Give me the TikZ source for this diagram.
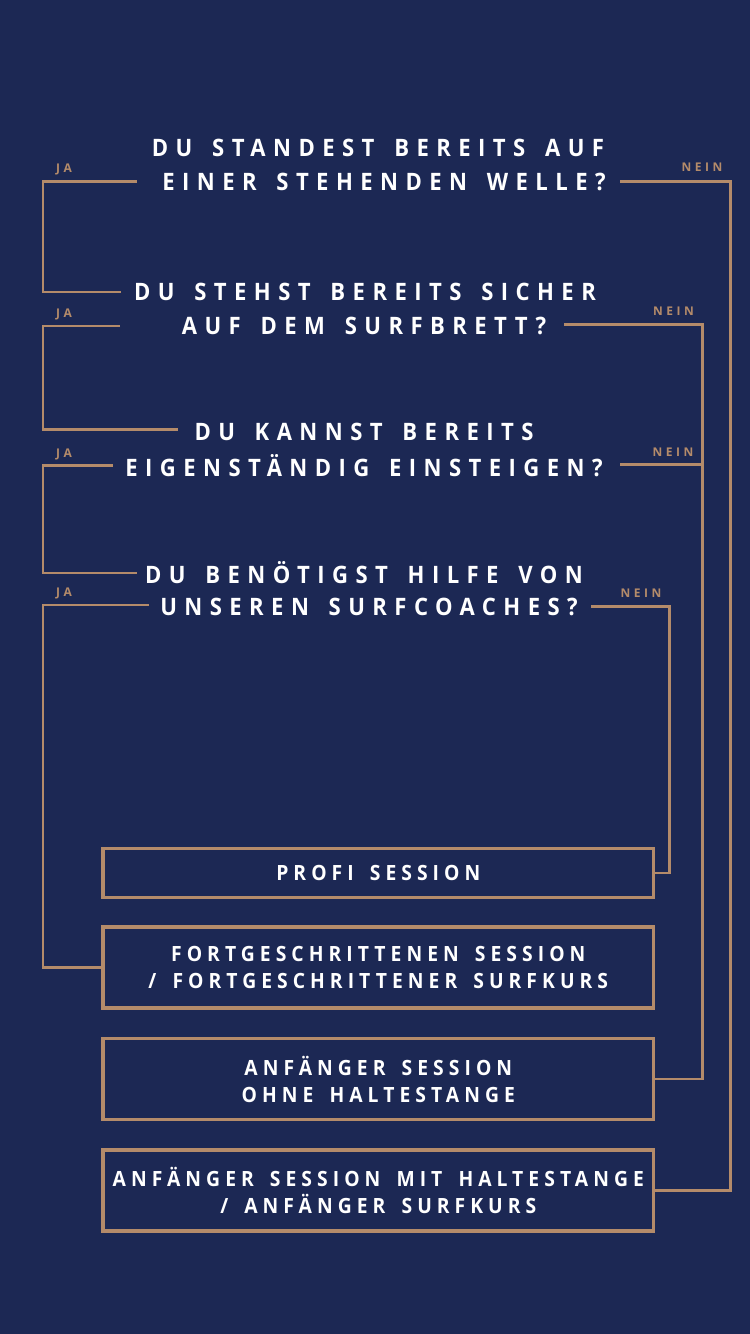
\documentclass[tikz,border=0pt]{standalone}
\usepackage{fontspec}
\setmainfont{Open Sans}
\newfontfamily\qfont[LetterSpace=31,WordSpace=1.5,FakeStretch=0.92]{Open Sans}
\newfontfamily\bfont[LetterSpace=24,WordSpace=1.6,FakeStretch=0.92]{Open Sans}
\newfontfamily\lfont[LetterSpace=30]{Open Sans}
\definecolor{bg}{HTML}{1C2854}
\definecolor{tan}{HTML}{B48B6A}
\tikzset{
  q/.style={font=\qfont\bfseries\fontsize{24}{24}\selectfont, text=white, inner sep=0pt, anchor=center},
  lbl/.style={font=\lfont\bfseries\fontsize{12}{12}\selectfont, text=tan, inner sep=0pt, anchor=center},
  outbox/.style={draw=tan, line width=3.5pt, minimum width=550.5pt, inner sep=0pt, align=center,
    font=\bfont\bfseries\fontsize{21}{27}\selectfont, text=white},
  conn/.style={draw=tan, line width=2.8pt}
}
\begin{document}
\begin{tikzpicture}[x=1pt,y=-1pt]
\fill[bg] (0,0) rectangle (750,1334);
% questions
\node[q] (q1a) at (378,148) {DU STANDEST BEREITS AUF};
\node[q] (q1b) at (384,182) {EINER STEHENDEN WELLE?};
\node[q] (q2a) at (365,292) {DU STEHST BEREITS SICHER};
\node[q] (q2b) at (364,326) {AUF DEM SURFBRETT?};
\node[q] (q3a) at (364,432) {DU KANNST BEREITS};
\node[q] (q3b) at (364,466) {EIGENSTÄNDIG EINSTEIGEN?};
\node[q] (q4a) at (364,573) {DU BENÖTIGST HILFE VON};
\node[q] (q4b) at (369,607) {UNSEREN SURFCOACHES?};
% boxes
\node[outbox, minimum height=48.6pt] (b1) at (378.3,873) {PROFI SESSION};
\node[outbox, minimum height=81pt] (b2) at (378.3,967.5) {FORTGESCHRITTENEN SESSION\\/ FORTGESCHRITTENER SURFKURS};
\node[outbox, minimum height=81pt] (b3) at (378.3,1079) {ANFÄNGER SESSION\\OHNE HALTESTANGE};
\node[outbox, minimum height=81pt] (b4) at (378.3,1190.7) {ANFÄNGER SESSION MIT HALTESTANGE\\/ ANFÄNGER SURFKURS};
% labels
\node[lbl] (ja1) at (64,169) {JA};
\node[lbl] (ja2) at (64,314) {JA};
\node[lbl] (ja3) at (64,454) {JA};
\node[lbl] (ja4) at (64,593) {JA};
\node[lbl] (ne1) at (702,167.5) {NEIN};
\node[lbl] (ne2) at (673.5,311.7) {NEIN};
\node[lbl] (ne3) at (673,452) {NEIN};
\node[lbl] (ne4) at (641,593.3) {NEIN};
% connector ends
\coordinate (j1s) at (136.7,181.3);
\coordinate (j1e) at (120.7,292);
\coordinate (j2s) at (120,326);
\coordinate (j2e) at (178.3,429.7);
\coordinate (j3s) at (112.7,465.8);
\coordinate (j3e) at (136.7,573);
\coordinate (j4s) at (149,605);
\coordinate (n1s) at (620,181.3);
\coordinate (n2s) at (564.3,324.2);
\coordinate (n3s) at (620,464.7);
\coordinate (n3e) at (702.7,464.7);
\coordinate (n4s) at (591,606.3);
% left connectors
\draw[conn] (j1s) -- (43,181.3) |- (j1e);
\draw[conn] (j2s) -- (43,326) |- (j2e);
\draw[conn] (j3s) -- (43,465.8) |- (j3e);
\draw[conn] (j4s) -- (43,605) |- (b2.west);
% right connectors
\draw[conn] (n1s) -- (730.7,181.3) |- (b4.east);
\draw[conn] (n2s) -- (702.7,324.2) |- (b3.east);
\draw[conn] (n3s) -- (n3e);
\draw[conn] (n4s) -- (669.7,606.3) |- (b1.east);
\end{tikzpicture}
\end{document}
